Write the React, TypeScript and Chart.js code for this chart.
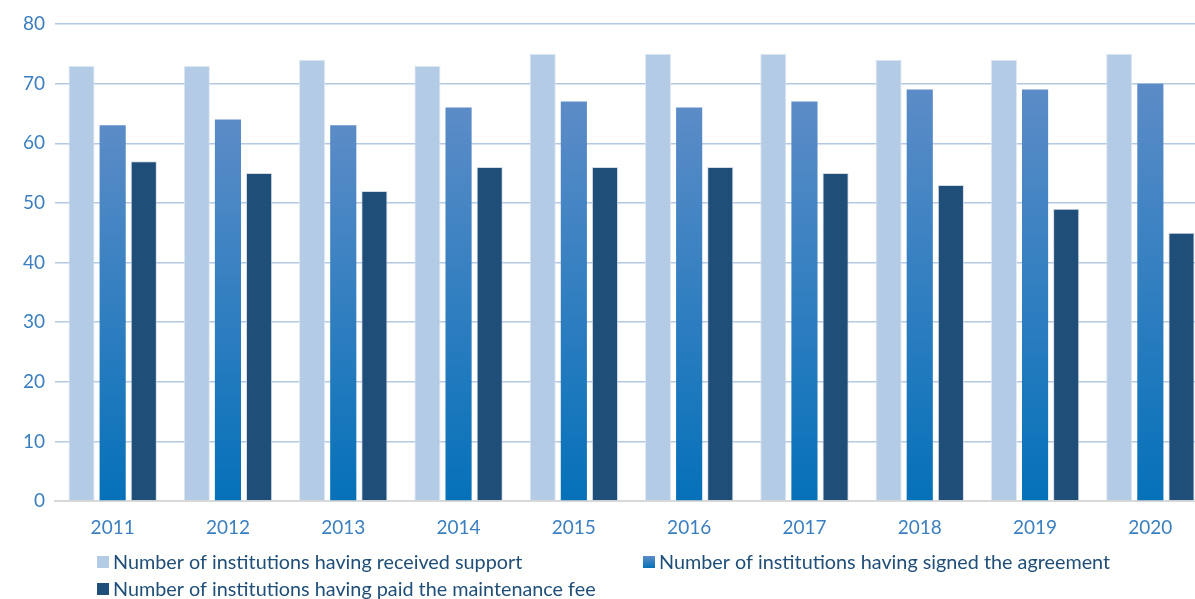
import React, { useEffect, useRef } from "react";
import { Chart, registerables } from "chart.js";

Chart.register(...registerables);

const years = ["2011", "2012", "2013", "2014", "2015", "2016", "2017", "2018", "2019", "2020"];
const received = [73, 73, 74, 73, 75, 75, 75, 74, 74, 75];
const signed = [63, 64, 63, 66, 67, 66, 67, 69, 69, 70];
const paid = [57, 55, 52, 56, 56, 56, 55, 53, 49, 45];
const seriesLabels = [
  "Number of institutions having received support",
  "Number of institutions having signed the agreement",
  "Number of institutions having paid the maintenance fee",
];
const yTicks = [0, 10, 20, 30, 40, 50, 60, 70, 80];

const FONT = "Lato, 'Open Sans', sans-serif";
const LIGHT = "#b4cbe5";
const DARK = "#1f4e78";
const GRAD_TOP = "#5c8cc7";
const GRAD_BOTTOM = "#0571b9";

function signedFill(ctx: any) {
  const chart = ctx.chart;
  const area = chart.chartArea;
  if (!area || ctx.type !== "data") return "#3a80c2";
  const ys = chart.scales.y;
  const top = ys.getPixelForValue(ctx.parsed.y);
  const bottom = ys.getPixelForValue(0);
  const g = chart.ctx.createLinearGradient(0, top, 0, bottom);
  g.addColorStop(0, GRAD_TOP);
  g.addColorStop(1, GRAD_BOTTOM);
  return g;
}

const legendPlugin = {
  id: "customLegend",
  afterDraw(chart: any) {
    const ctx = chart.ctx;
    const area = chart.chartArea;
    const items = [
      { x: area.left + 42, y: 562, color: LIGHT, label: seriesLabels[0] },
      { x: area.left + 588, y: 562, color: "grad", label: seriesLabels[1] },
      { x: area.left + 42, y: 589, color: DARK, label: seriesLabels[2] },
    ];
    ctx.save();
    ctx.font = `19.8px ${FONT}`;
    ctx.textBaseline = "middle";
    items.forEach((it) => {
      const bx = it.x;
      const by = it.y - 6;
      if (it.color === "grad") {
        const g = ctx.createLinearGradient(0, by, 0, by + 12);
        g.addColorStop(0, GRAD_TOP);
        g.addColorStop(1, GRAD_BOTTOM);
        ctx.fillStyle = g;
      } else {
        ctx.fillStyle = it.color;
      }
      ctx.fillRect(bx, by, 12, 12);
      ctx.fillStyle = "#1f4e78";
      ctx.fillText(it.label, bx + 16, it.y + 1);
    });
    ctx.restore();
  },
};

export default function App() {
  const ref = useRef<HTMLCanvasElement | null>(null);

  useEffect(() => {
    if (!ref.current) return;
    const chart = new Chart(ref.current, {
      type: "bar",
      data: {
        labels: years,
        datasets: [
          {
            label: seriesLabels[0],
            data: received,
            backgroundColor: LIGHT,
            borderColor: "rgba(220,230,242,0.9)",
            borderWidth: 1,
          },
          {
            label: seriesLabels[1],
            data: signed,
            backgroundColor: signedFill,
            borderWidth: 0,
          },
          {
            label: seriesLabels[2],
            data: paid,
            backgroundColor: DARK,
            borderColor: "rgba(200,210,225,0.8)",
            borderWidth: 1,
          },
        ],
      },
      options: {
        responsive: false,
        animation: false,
        layout: { padding: { top: 24, left: 0, right: 0, bottom: 0 } },
        datasets: { bar: { categoryPercentage: 0.81, barPercentage: 0.84 } },
        plugins: {
          legend: { display: false },
          tooltip: { enabled: false },
        },
        scales: {
          x: {
            grid: { display: false, drawTicks: false },
            border: { display: true, color: "#d9d9d9", width: 2 },
            ticks: {
              color: "#3b7fc0",
              font: { family: FONT, size: 19 },
              padding: 15,
            },
            afterFit: (scale: any) => {
              scale.height = 98;
            },
          },
          y: {
            min: 0,
            max: 80,
            afterBuildTicks: (scale: any) => {
              scale.ticks = yTicks.map((v) => ({ value: v }));
            },
            grid: {
              color: (c: any) => (c.tick && c.tick.value === 0 ? "rgba(0,0,0,0)" : "#b5c8e2"),
              lineWidth: 1.5,
              drawTicks: false,
            },
            border: { display: false },
            ticks: {
              color: "#3b7fc0",
              font: { family: FONT, size: 19 },
              padding: 10,
            },
            afterFit: (scale: any) => {
              scale.width = 55;
            },
          },
        },
      },
      plugins: [legendPlugin],
    });
    return () => chart.destroy();
  }, []);

  return (
    <div style={{ position: "absolute", left: 0, top: 0, width: 1195, height: 599, overflow: "hidden", background: "#fff" }}>
      <canvas ref={ref} width={1208} height={599} style={{ display: "block" }} />
    </div>
  );
}
